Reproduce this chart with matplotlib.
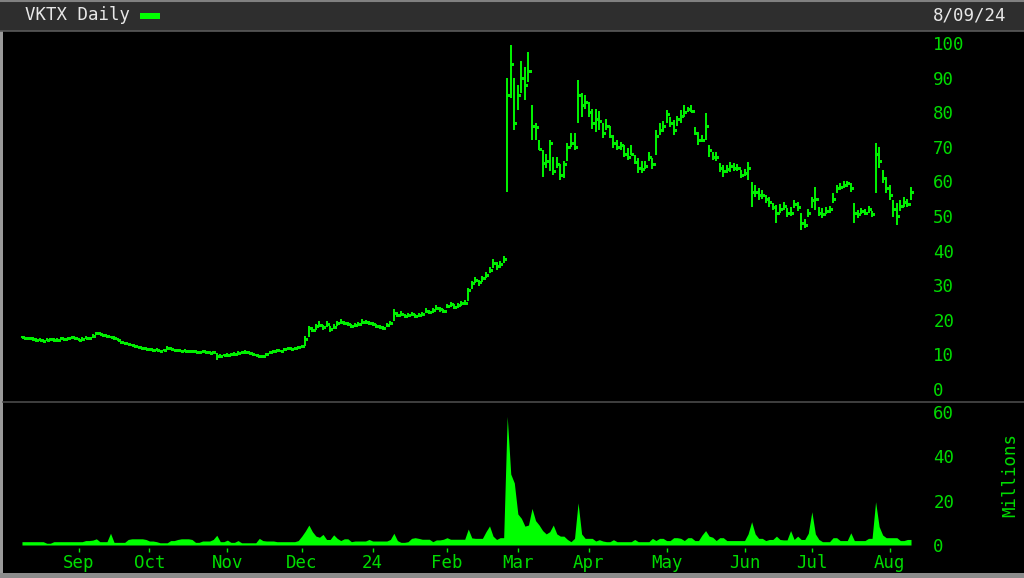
import matplotlib.pyplot as plt
import numpy as np
import pandas as pd
from matplotlib.patches import Rectangle
from matplotlib.lines import Line2D

# Trading calendar: Aug 10 2023 .. Aug 9 2024 (US market holidays removed)
holidays = ["2023-09-04", "2023-11-23", "2023-12-25", "2024-01-01", "2024-01-15",
            "2024-02-19", "2024-03-29", "2024-05-27", "2024-06-19", "2024-07-04"]
dates = pd.bdate_range("2023-08-10", "2024-08-09", freq="C", holidays=holidays)

# Daily closes, one row per month
closes = [
    15.0, 14.6, 14.8, 14.4, 14.1, 14.3, 14.0, 14.2, 14.5, 14.1, 14.3, 14.6, 14.4, 14.7, 14.9, 14.6,
    14.3, 14.5, 14.8, 14.6, 15.2, 16.2, 16.0, 15.5, 15.2, 15.0, 14.8, 14.2, 13.5, 13.2, 13.0, 12.7, 12.3, 12.1, 11.8, 11.6,
    11.5, 11.2, 11.4, 11.0, 11.3, 11.9, 11.6, 11.3, 11.2, 11.0, 11.1, 11.0, 10.9, 10.8, 10.7, 10.9, 10.6, 10.5, 10.6, 9.5, 9.6, 9.8,
    9.9, 10.0, 10.2, 10.5, 10.6, 10.8, 10.5, 10.2, 9.8, 9.4, 9.5, 10.0, 10.6, 11.0, 11.2, 11.0, 11.5, 11.8, 11.6, 11.8, 12.0,
    12.3, 14.5, 17.5, 17.0, 18.2, 18.5, 17.8, 18.8, 17.2, 18.0, 19.0, 19.5, 19.2, 18.8, 18.2, 18.6, 18.9, 19.5, 19.3, 19.1,
    18.8, 18.3, 17.8, 17.6, 18.4, 19.0, 22.0, 21.5, 21.8, 21.0, 21.3, 21.6, 21.0, 21.4, 21.8, 22.6, 22.2, 22.8, 23.5, 23.0, 22.5,
    24.0, 24.5, 23.8, 24.2, 24.8, 25.0, 28.5, 30.5, 31.5, 30.8, 32.0, 33.0, 34.5, 36.5, 35.5, 36.0, 37.5, 85.0, 94.0, 77.0,
    85, 90, 88, 92, 76, 75.8, 69.3, 65.3, 66, 71, 63, 65, 62, 65, 70, 71, 70, 85, 82, 83,
    80, 77, 78, 77.5, 74, 76, 73, 71, 70, 70.5, 68, 67, 68, 65.5, 64, 63.5, 64.5, 67, 65, 73, 75, 76,
    79.5, 77, 75, 78, 79, 80, 81, 80.5, 74, 72, 72, 76, 69, 67, 67, 64, 63, 63.5, 64.5, 64, 64, 62,
    62.5, 64, 57, 57, 56, 56, 55, 54, 52.5, 51, 52, 53, 51, 51, 53.5, 52.5, 48, 47.5, 51,
    54.5, 55, 51, 50.5, 51.5, 52, 55, 58, 58.5, 59, 59.5, 58, 51, 50.5, 51.5, 51, 52, 50.5, 68, 66, 61, 58,
    56, 52, 50, 53, 54, 53.5, 57,
]

highs = [
    15.3, 15.1, 15.0, 14.9, 14.6, 14.6, 14.5, 14.6, 14.8, 14.6, 14.7, 14.9, 14.8, 15.0, 15.2, 15.0,
    14.7, 14.9, 15.2, 15.0, 15.8, 16.6, 16.5, 16.0, 15.6, 15.4, 15.2, 14.7, 14.0, 13.6, 13.4, 13.1, 12.8, 12.5, 12.2, 12.0,
    11.9, 11.6, 11.8, 11.4, 11.7, 12.3, 12.0, 11.7, 11.6, 11.4, 11.5, 11.4, 11.3, 11.2, 11.1, 11.3, 11.0, 10.9, 11.0, 10.3, 10.0, 10.2,
    10.3, 10.4, 10.6, 10.9, 11.0, 11.2, 10.9, 10.6, 10.2, 9.8, 9.9, 10.4, 11.0, 11.4, 11.6, 11.4, 11.9, 12.2, 12.0, 12.2, 12.4,
    12.8, 15.2, 18.2, 17.9, 18.9, 19.6, 18.6, 19.7, 18.2, 18.7, 19.7, 20.1, 19.8, 19.4, 18.9, 19.2, 19.5, 20.1, 19.9, 19.7,
    19.4, 18.9, 18.4, 18.2, 19.0, 19.6, 23.2, 22.4, 22.5, 21.7, 22.0, 22.3, 21.7, 22.0, 22.4, 23.3, 22.9, 23.5, 24.2, 23.7, 23.2,
    24.7, 25.2, 24.5, 24.9, 25.5, 25.7, 29.2, 31.3, 32.3, 31.6, 32.8, 33.8, 35.4, 37.5, 36.6, 37.0, 38.5, 90.0, 99.4, 90.0,
    88, 94.8, 93, 97.5, 82, 77, 72, 69, 68, 72, 67, 67, 65, 66, 71, 74, 74, 89.3, 85.5, 85,
    83, 80.9, 80.9, 80.5, 77, 78, 76, 73.5, 72, 71.4, 70.5, 69.6, 70.5, 67.6, 66.7, 65.8, 65.8, 68.5, 66.7, 75, 77, 77.5,
    80.6, 78.6, 77.7, 79, 80.6, 82, 81.6, 82, 75.7, 74.3, 73.4, 79.8, 70.5, 68.5, 68.5, 65.3, 64.7, 64.7, 65.6, 65.2, 65, 63.3,
    63.5, 65.6, 59.8, 59, 58, 57.5, 56, 55.5, 53.8, 53.2, 53.5, 54, 52.3, 52.5, 54.6, 54, 50.9, 49, 52,
    55.5, 58.4, 52.5, 52.3, 52.5, 53, 56.6, 59, 59.5, 60, 60, 59.5, 53.8, 51.8, 52.3, 52, 53, 51.5, 71, 70, 63.3, 61.3,
    59, 54.6, 53.8, 54.5, 55.5, 55, 58.4,
]

lows = [
    14.6, 14.3, 14.3, 14.0, 13.7, 13.9, 13.6, 13.8, 14.0, 13.7, 13.9, 14.1, 14.0, 14.3, 14.5, 14.2,
    13.9, 14.1, 14.4, 14.2, 14.8, 15.6, 15.6, 15.1, 14.8, 14.6, 14.3, 13.8, 13.1, 12.8, 12.6, 12.3, 11.9, 11.7, 11.4, 11.2,
    11.1, 10.8, 11.0, 10.6, 10.9, 11.4, 11.2, 10.9, 10.8, 10.6, 10.7, 10.6, 10.5, 10.4, 10.3, 10.5, 10.2, 10.1, 10.2, 8.5, 9.2, 9.4,
    9.5, 9.6, 9.8, 10.1, 10.2, 10.4, 10.1, 9.8, 9.4, 9.0, 9.1, 9.6, 10.2, 10.6, 10.8, 10.6, 11.1, 11.4, 11.2, 11.4, 11.6,
    11.9, 12.4, 15.0, 16.4, 17.0, 17.8, 17.0, 18.0, 16.6, 17.3, 18.3, 18.8, 18.6, 18.2, 17.6, 18.0, 18.3, 18.9, 18.7, 18.5,
    18.2, 17.7, 17.2, 17.0, 17.8, 18.4, 19.8, 20.8, 21.1, 20.4, 20.7, 21.0, 20.4, 20.8, 21.2, 21.9, 21.6, 22.1, 22.8, 22.4, 21.9,
    23.3, 23.8, 23.1, 23.5, 24.1, 24.3, 25.3, 28.8, 30.5, 29.8, 31.0, 32.0, 33.5, 35.0, 34.5, 35.0, 36.3, 57.0, 84.0, 75.0,
    80.6, 85.5, 83.5, 88.8, 72, 72, 69, 61.4, 64, 63, 62, 64, 60.4, 61, 66, 70, 69, 77, 78.6, 80.9,
    78.6, 75.2, 74.3, 75, 72.5, 75, 72.5, 69.6, 69, 69.2, 67, 66.3, 67.6, 65, 62.3, 62.3, 63.7, 65.8, 63.5, 67.6, 73.5, 74.3,
    77, 75.7, 73.4, 76, 77, 78.6, 80, 80, 73.4, 70.5, 71.5, 72, 67, 66.2, 66, 62.7, 61.3, 62.5, 62.7, 63, 63, 61,
    61.5, 60.4, 52.6, 55.5, 54.6, 55, 53.8, 52.6, 51.7, 48, 50.8, 51.7, 49.7, 50, 52.3, 51.5, 46, 46.5, 49.8,
    52.3, 51.7, 50, 49.4, 50.5, 51, 53.8, 56.6, 57.5, 58, 58.5, 57, 48, 49.5, 50.5, 50.3, 51, 49.8, 56.6, 64, 59.5, 56.6,
    54.6, 49.7, 47.4, 51.5, 52.5, 52.5, 54.6,
]

# Daily volume, millions of shares
volumes = [
    1.5, 1.5, 1.5, 1.5, 1.5, 1.5, 1.5, 0.8, 0.8, 1.5, 1.5, 1.5, 1.5, 1.5, 1.5, 1.5,
    1.5, 1.5, 2.0, 2.0, 2.2, 2.8, 1.5, 1.5, 1.5, 5.3, 1.2, 1.2, 1.2, 1.2, 2.5, 2.8, 2.8, 2.8, 2.8, 2.5,
    1.8, 1.8, 1.5, 1.0, 1.0, 1.0, 2.0, 2.0, 2.5, 2.8, 2.8, 2.8, 2.5, 1.2, 1.2, 1.8, 1.8, 1.8, 2.5, 4.4, 1.5, 1.5,
    2.2, 1.2, 1.2, 2.0, 1.0, 1.0, 1.0, 1.0, 1.0, 3.0, 2.0, 1.8, 1.8, 1.8, 1.5, 1.5, 1.5, 1.5, 1.5, 1.5, 2.0,
    4.0, 6.3, 9.0, 6.0, 4.0, 3.5, 4.8, 2.5, 2.5, 4.6, 3.0, 2.0, 2.8, 2.8, 1.5, 1.8, 1.8, 1.8, 1.8, 2.5,
    1.8, 1.8, 1.8, 1.8, 1.8, 2.5, 5.3, 2.0, 1.2, 1.2, 1.5, 3.0, 3.3, 3.0, 2.6, 2.6, 2.6, 1.5, 2.3, 2.3, 2.6,
    3.3, 2.6, 2.6, 2.6, 2.6, 2.6, 7.2, 3.2, 3.0, 3.0, 3.0, 6.0, 8.6, 4.0, 2.5, 3.3, 3.3, 58, 32, 28,
    14, 12, 8.5, 9, 16.5, 11, 9, 6.5, 5, 6, 9, 5, 4, 4, 2.5, 1.5, 3, 19, 5, 3,
    3, 3, 1.8, 2.4, 1.8, 1.5, 1.5, 2.4, 1.5, 1.5, 1.5, 1.5, 1.5, 2.5, 1.5, 1.5, 1.5, 1.5, 3, 2, 3, 3,
    2, 2, 3.3, 3.3, 3, 2, 3.3, 3.3, 2, 2, 4.5, 6.5, 4, 3.5, 2, 3.3, 3.3, 2, 2, 2, 2, 2,
    2, 5, 10.5, 5, 3, 3, 2, 2.5, 2.5, 4, 2.5, 2.3, 2.3, 6.5, 2.5, 4, 2.5, 2.5, 5.3,
    15, 5, 2.5, 1.5, 1.5, 1.5, 3.3, 3.3, 2, 2, 2, 5.5, 2, 2, 2, 2, 3, 3, 19.5, 8.3, 4.5, 3.3,
    3.3, 3.3, 3.3, 2, 2, 2.5, 2.5,
]

price_ticks = [0, 10, 20, 30, 40, 50, 60, 70, 80, 90, 100]
volume_ticks = [0, 20, 40, 60]
month_names = ["Sep", "Oct", "Nov", "Dec", "24", "Feb", "Mar", "Apr", "May", "Jun", "Jul", "Aug"]

GREEN = "#00f000"
TEXT_GREEN = "#00dc00"
FONT = "DejaVu Sans Mono"
W, H = 1024, 578

x = np.arange(len(dates))
closes = np.array(closes)
highs = np.array(highs)
lows = np.array(lows)
volumes = np.array(volumes)

# first trading day of each month (skip the partial first month)
period = dates.to_period("M")
month_pos = [i for i in range(1, len(dates)) if period[i] != period[i - 1]]

fig = plt.figure(figsize=(W / 100, H / 100), dpi=100, facecolor="black")


def fx(px):
    return px / W


def fy(py):
    return 1 - py / H


# header band + borders
fig.patches.append(Rectangle((0, fy(31)), 1, 31 / H, transform=fig.transFigure,
                             facecolor="#2e2e2e", edgecolor="none", zorder=0))
fig.add_artist(Line2D([0, 1], [fy(1), fy(1)], color="#808080", lw=1.5))
fig.add_artist(Line2D([0, 1], [fy(31), fy(31)], color="#5a5a5a", lw=1.2))
fig.patches.append(Rectangle((0, 0), fx(3), fy(31), transform=fig.transFigure,
                             facecolor="#9a9a9a", edgecolor="none", zorder=0))
fig.patches.append(Rectangle((0, 0), 1, 5 / H, transform=fig.transFigure,
                             facecolor="#8c8c8c", edgecolor="none", zorder=0))

fig.text(fx(25), fy(15), "VKTX Daily", color="#e8e8e8", family=FONT, fontsize=12.5,
         va="center", ha="left")
fig.patches.append(Rectangle((fx(140), fy(18.5)), fx(20), 5 / H, transform=fig.transFigure,
                             facecolor="#00ff00", edgecolor="none"))
fig.text(fx(1006), fy(15), "8/09/24", color="#e8e8e8", family=FONT, fontsize=12.5,
         va="center", ha="right")

# panels
left, right = 3, 918
x0 = (left - 22) / 3.55
x1 = (len(dates) - 1) + (right - 911) / 3.55

ax_p = fig.add_axes([fx(left), fy(402), fx(right - left), (402 - 32) / H])
ax_v = fig.add_axes([fx(left), fy(548), fx(right - left), (548 - 402) / H])

for ax in (ax_p, ax_v):
    ax.set_facecolor("black")
    for s in ax.spines.values():
        s.set_visible(False)
    ax.set_xlim(x0, x1)
    ax.yaxis.tick_right()
    ax.tick_params(axis="y", length=0, pad=11, labelcolor=TEXT_GREEN, labelsize=12.5)

# price bars (high-low with close tick), crisp pixel look
ax_p.vlines(x, lows, highs, color=GREEN, lw=1.3, antialiased=False)
ax_p.hlines(closes, x, x + 0.6, color=GREEN, lw=0.8, antialiased=False)
ax_p.set_ylim(-3.76, 103.2)
ax_p.set_yticks(price_ticks)
ax_p.set_yticklabels([str(t) for t in price_ticks], family=FONT)
ax_p.set_xticks([])

# volume mountain
ax_v.fill_between(x, volumes, 0, color="#00ff00", lw=0)
ax_v.set_ylim(-1.35, 64.5)
ax_v.set_yticks(volume_ticks)
ax_v.set_yticklabels([str(t) for t in volume_ticks], family=FONT)
ax_v.set_xticks(month_pos)
ax_v.set_xticklabels(month_names, family=FONT)
ax_v.tick_params(axis="x", direction="out", length=3, width=1, color=GREEN,
                 labelcolor=TEXT_GREEN, labelsize=12.5, pad=1)

fig.add_artist(Line2D([fx(3), 1], [fy(402), fy(402)], color="#4a4a4a", lw=1.2))
fig.text(fx(1010), fy(475), "Millions", color=TEXT_GREEN, family=FONT, fontsize=12.5,
         rotation=90, va="center", ha="center")

fig.savefig("out.png", dpi=100, facecolor="black")
